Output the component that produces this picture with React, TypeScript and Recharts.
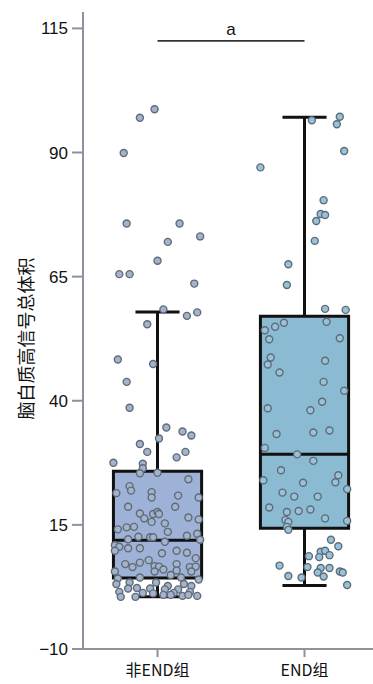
import {
  ComposedChart,
  Scatter,
  XAxis,
  YAxis,
  ReferenceArea,
  ReferenceLine,
} from "recharts";

const CATEGORIES = ["非END组", "END组"];
const Y_TICKS = [-10, 15, 40, 65, 90, 115];
const Y_LABEL = "脑白质高信号总体积";
const SIG_LABEL = "a";
const SIG_VALUE = 112.5;

// [low whisker, Q1, median, Q3, high whisker]
const NON_END_BOX = [0.5, 4.3, 11.9, 25.8, 57.9];
const END_BOX = [2.8, 14.3, 29.2, 57.0, 97.1];

// raw points; jitter is in category units
const NON_END_VALUES = [
  98.7, 97.0, 89.9, 75.7, 75.7, 73.1, 72.0, 68.2, 65.5, 65.5, 63.6, 58.4, 57.1, 57.8,
  55.4, 48.3, 47.4, 43.8, 38.6, 34.6, 33.8, 33.0, 32.4, 31.3, 29.7, 29.7, 28.6, 27.5,
  27.3, 26.4, 25.4, 25.5, 24.2, 22.8, 21.9, 21.4, 21.6, 20.5, 20.9, 20.5, 18.65, 18.65,
  17.3, 16.3, 17.2, 17.6, 17.2, 15.6, 16.5, 15.3, 16.1, 14.1, 14.5, 14.6, 13.6, 12.6,
  12.5, 12.5, 12.8, 13.2, 12.0, 12.1, 11.6, 10.9, 10.6, 10.3, 10.3, 9.8, 9.8, 9.4,
  9.3, 8.3, 7.9, 7.1, 6.5, 7.4, 6.7, 6.6, 6.0, 7.1, 5.8, 6.5, 6.6, 5.6, 5.6, 5.6, 4.2,
  4.4, 4.9, 4.4, 4.0, 3.1, 3.4, 3.4, 2.7, 3.1, 2.7, 2.2, 2.3, 2.2, 2.0, 2.0, 1.5, 1.3,
  1.3, 1.5, 0.5, 0.5, 0.9, 0.7, 0.9, 0.7, 0.9, 1.2,
];
const NON_END_JITTER = [
  -0.02, -0.12, -0.23, -0.21, 0.15, 0.29, 0.07, 0.0, -0.26, -0.19, 0.25, 0.04, 0.2, 0.27,
  -0.07, -0.27, -0.03, -0.21, -0.19, 0.06, 0.17, 0.23, 0.01, -0.12, -0.07, 0.19, 0.13, -0.3,
  -0.1, -0.1, -0.12, 0.0, 0.21, -0.19, -0.18, -0.28, -0.04, -0.04, 0.14, 0.28, -0.2, 0.12,
  -0.12, -0.09, -0.03, 0.0, 0.01, -0.04, 0.21, 0.05, 0.28, -0.27, -0.21, -0.16, 0.07, -0.13,
  -0.05, -0.03, 0.2, 0.27, 0.29, -0.2, 0.05, -0.29, -0.26, -0.2, -0.12, -0.29, 0.13, 0.2,
  0.03, 0.26, -0.06, -0.22, -0.17, -0.12, -0.02, 0.01, 0.04, 0.13, 0.13, 0.22, 0.26, -0.29, -0.02, 0.23, -0.27,
  -0.12, 0.09, 0.16, 0.28, -0.28, -0.19, -0.01, 0.07, 0.18, 0.23, -0.2, -0.14, -0.05, 0.05, 0.14, -0.26, -0.1,
  0.11, 0.22, -0.25, -0.15, 0.04, 0.17, 0.21, 0.27, 0.09, -0.03,
];

const END_VALUES = [
  97.2, 95.7, 96.5, 90.3, 87.0, 80.4, 77.6, 77.4, 76.2, 72.2, 67.5, 63.3, 58.5, 58.3,
  55.9, 55.7, 54.9, 54.2, 52.4, 52.6, 48.7, 47.3, 48.05, 45.7, 43.8, 42.0, 39.8, 38.5,
  38.1, 33.3, 33.6, 34.0, 30.5, 29.2, 27.9, 26.0, 24.0, 25.0, 23.6, 23.5, 22.2, 21.5,
  20.7, 20.7, 18.5, 17.6, 17.8, 18.1, 16.3, 16.0, 15.6, 15.8, 14.6, 14.0, 12.0, 10.7,
  8.7, 9.6, 9.8, 8.9, 8.5, 6.8, 6.5, 6.3, 6.3, 5.6, 5.4, 5.4, 4.6, 4.7, 4.4, 2.9,
];
const END_JITTER = [
  0.24, 0.22, 0.05, 0.27, -0.3, 0.13, 0.11, 0.14, 0.08, 0.07, -0.11, -0.12, 0.14, 0.28,
  0.15, -0.14, -0.2, -0.27, -0.24, 0.24, -0.23, -0.25, 0.14, -0.17, 0.13, 0.27, 0.12, -0.25,
  0.04, -0.19, 0.06, 0.17, -0.27, -0.05, 0.06, -0.16, -0.28, 0.23, 0.21, -0.01, 0.29, -0.15,
  -0.07, 0.09, -0.24, -0.12, -0.04, 0.04, 0.14, -0.13, -0.11, 0.29, -0.12, -0.11, 0.18, 0.23,
  0.03, 0.11, 0.14, 0.17, 0.1, -0.17, 0.02, 0.11, 0.17, 0.24, 0.26, 0.09, 0.13, -0.11, -0.02, 0.29,
];

const BOX_HALF = 0.3;
const CAP_HALF = 0.15;

const BOX_STROKE = "#111111";
const AXIS_COLOR = "#8d929b";
const TEXT_COLOR = "#111111";
const BOX_FILLS = ["#9eb1d6", "#8bbbd3"];
const POINT_FILLS = ["#a3b3cc", "#98c2d8"];
const POINT_STROKE = "#5f6b78";

const FONT = "Arial, 'Liberation Sans', 'Noto Sans CJK SC', sans-serif";
const CJK_FONT = "'Noto Sans CJK SC', sans-serif";

const nonEndPoints = NON_END_VALUES.map((v, i) => ({ x: 0 + NON_END_JITTER[i], y: v }));
const endPoints = END_VALUES.map((v, i) => ({ x: 1 + END_JITTER[i], y: v }));

function Dot(props: any, fill: string) {
  const { cx, cy } = props;
  if (cx == null || cy == null) return null;
  return <circle cx={cx} cy={cy} r={3.5} fill={fill} stroke={POINT_STROKE} strokeWidth={1.4} />;
}

// rotated axis title, nudged a little below the plot's middle like the original
function YTitle(props: any) {
  const vb = props.viewBox || {};
  const x = (vb.x ?? 0) + 25;
  const y = (vb.y ?? 0) + (vb.height ?? 0) / 2 + 8;
  return (
    <text
      x={x}
      y={y}
      transform={`rotate(-90, ${x}, ${y})`}
      textAnchor="middle"
      dominantBaseline="central"
      fontSize={18}
      fill={TEXT_COLOR}
      fontFamily={CJK_FONT}
    >
      {Y_LABEL}
    </text>
  );
}

function boxParts(center: number, stats: number[], fill: string, key: string) {
  const [lo, q1, med, q3, hi] = stats;
  return [
    <ReferenceLine
      key={key + "-up"}
      segment={[{ x: center, y: q3 }, { x: center, y: hi }]}
      stroke={BOX_STROKE}
      strokeWidth={3}
    />,
    <ReferenceLine
      key={key + "-down"}
      segment={[{ x: center, y: lo }, { x: center, y: q1 }]}
      stroke={BOX_STROKE}
      strokeWidth={3}
    />,
    <ReferenceLine
      key={key + "-capHi"}
      segment={[{ x: center - CAP_HALF, y: hi }, { x: center + CAP_HALF, y: hi }]}
      stroke={BOX_STROKE}
      strokeWidth={3}
    />,
    <ReferenceLine
      key={key + "-capLo"}
      segment={[{ x: center - CAP_HALF, y: lo }, { x: center + CAP_HALF, y: lo }]}
      stroke={BOX_STROKE}
      strokeWidth={3}
    />,
    <ReferenceArea
      key={key + "-box"}
      x1={center - BOX_HALF}
      x2={center + BOX_HALF}
      y1={q1}
      y2={q3}
      fill={fill}
      fillOpacity={1}
      stroke={BOX_STROKE}
      strokeWidth={3}
    />,
    <ReferenceLine
      key={key + "-med"}
      segment={[{ x: center - BOX_HALF, y: med }, { x: center + BOX_HALF, y: med }]}
      stroke={BOX_STROKE}
      strokeWidth={3}
    />,
  ];
}

export default function App() {
  return (
    <div style={{ position: "absolute", left: 0, top: 0, background: "#fff" }}>
      <ComposedChart
        width={373}
        height={684}
        margin={{ top: 12, right: 0, bottom: 0, left: 0 }}
        style={{ fontFamily: FONT }}
      >
        <XAxis
          type="number"
          dataKey="x"
          domain={[-0.507, 1.466]}
          ticks={[0, 1]}
          tickFormatter={(v: number) => CATEGORIES[v] ?? ""}
          allowDataOverflow
          height={35}
          tickSize={8}
          tickMargin={8}
          axisLine={{ stroke: AXIS_COLOR, strokeWidth: 2 }}
          tickLine={{ stroke: AXIS_COLOR, strokeWidth: 2 }}
          tick={{ fill: TEXT_COLOR, fontSize: 16, fontFamily: CJK_FONT }}
        />
        <YAxis
          type="number"
          dataKey="y"
          domain={[-10, 118.3]}
          ticks={Y_TICKS}
          allowDataOverflow
          width={83}
          tickSize={11}
          tickMargin={4}
          tickFormatter={(v: number) => String(v).replace("-", "\u2212")}
          axisLine={{ stroke: AXIS_COLOR, strokeWidth: 2 }}
          tickLine={{ stroke: AXIS_COLOR, strokeWidth: 2 }}
          tick={{ fill: TEXT_COLOR, fontSize: 17 }}
          label={<YTitle />}
        />
        {boxParts(0, NON_END_BOX, BOX_FILLS[0], "nonend")}
        {boxParts(1, END_BOX, BOX_FILLS[1], "end")}
        <ReferenceLine
          segment={[{ x: 0, y: SIG_VALUE }, { x: 1, y: SIG_VALUE }]}
          stroke="#333333"
          strokeWidth={1.8}
          label={{ value: SIG_LABEL, position: "top", offset: 6, fill: TEXT_COLOR, fontSize: 17 }}
        />
        <Scatter
          data={nonEndPoints}
          shape={(p: any) => Dot(p, POINT_FILLS[0])}
          isAnimationActive={false}
        />
        <Scatter
          data={endPoints}
          shape={(p: any) => Dot(p, POINT_FILLS[1])}
          isAnimationActive={false}
        />
      </ComposedChart>
    </div>
  );
}
